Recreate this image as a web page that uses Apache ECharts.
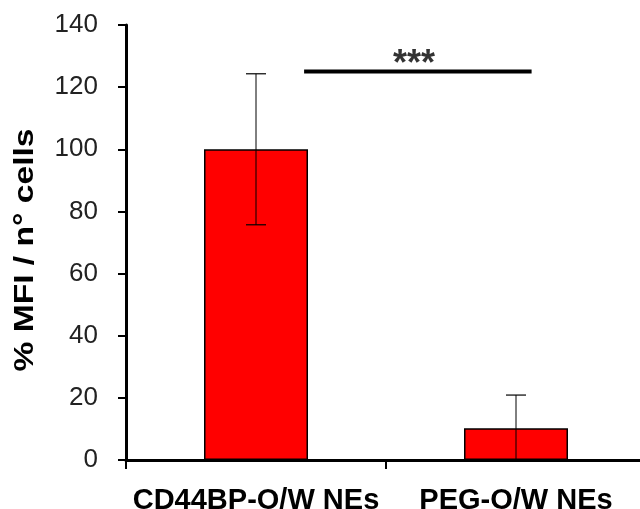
<!DOCTYPE html>
<html><head><meta charset="utf-8">
<script src="https://cdn.jsdelivr.net/npm/echarts@6/dist/echarts.min.js"></script>
<style>html,body{margin:0;padding:0;background:#fff}#c{width:640px;height:509px}</style>
</head><body><div id="c"></div>
<script>
const categories = ['CD44BP-O/W NEs', 'PEG-O/W NEs'];
const values = [100, 10.2];
const errors = [24.3, 10.7];
const yTicks = [0, 20, 40, 60, 80, 100, 120, 140];
const sigSpan = [0.185, 1.06];
const sigTextX = 0.608;
const sigLevel = 125;
const sigText = '***';
const yTitle = '% MFI / n° cells';

const chart = echarts.init(document.getElementById('c'));
const FONT = 'Liberation Sans, Arial, sans-serif';
chart.setOption({
  animation: false,
  grid: {left: 126, width: 520, top: 25, bottom: 49, containLabel: false, outerBoundsMode: 'none'},
  xAxis: [{
    type: 'category', data: categories,
    axisLine: {lineStyle: {color: '#000', width: 3}},
    axisTick: {show: true, length: 9, lineStyle: {color: '#000', width: 2}},
    axisLabel: {color: '#000', fontFamily: FONT, fontWeight: 'bold', fontSize: 29, margin: 26,
      interval: 0}
  }, {
    type: 'value', min: -0.5, max: 1.5, show: false
  }],
  yAxis: {
    type: 'value', min: yTicks[0], max: yTicks[yTicks.length - 1], interval: 20,
    splitLine: {show: false},
    axisLine: {show: true, onZero: false, lineStyle: {color: '#000', width: 3}},
    axisTick: {show: true, length: 8, lineStyle: {color: '#000', width: 2}},
    axisLabel: {color: '#222', fontFamily: FONT, fontSize: 26, margin: 28}
  },
  graphic: [{
    type: 'text', x: 25, y: 250, rotation: Math.PI / 2, scaleX: 1.2,
    style: {text: yTitle, x: 0, y: 0, align: 'center', verticalAlign: 'middle',
      fill: '#000', font: 'bold 28px ' + FONT}
  }],
  series: [{
    type: 'bar', data: values, barWidth: '40%',
    itemStyle: {color: '#ff0000', borderColor: '#000', borderWidth: 1.5}
  }, {
    type: 'custom',
    data: values.map((v, i) => [i, v, errors[i]]),
    renderItem: function (params, api) {
      const i = api.value(0), v = api.value(1), e = api.value(2);
      const top = api.coord([i, v + e]);
      const bot = api.coord([i, Math.max(0, v - e)]);
      const half = 10;
      const children = [
        {type: 'line', shape: {x1: top[0], y1: top[1], x2: bot[0], y2: bot[1]}, style: {stroke: '#000', lineWidth: 1}},
        {type: 'line', shape: {x1: top[0] - half, y1: top[1], x2: top[0] + half, y2: top[1]}, style: {stroke: '#000', lineWidth: 1.2}}
      ];
      if (v - e > 0) children.push({type: 'line', shape: {x1: bot[0] - half, y1: bot[1], x2: bot[0] + half, y2: bot[1]}, style: {stroke: '#000', lineWidth: 1.2}});
      return {type: 'group', children: children};
    },
    z: 5
  }, {
    type: 'line', xAxisIndex: 1,
    data: [[sigSpan[0], sigLevel], [sigSpan[1], sigLevel]],
    symbol: 'none', lineStyle: {color: '#000', width: 4}
  }, {
    type: 'scatter', xAxisIndex: 1,
    data: [[sigTextX, sigLevel]],
    symbolSize: 0.001,
    label: {show: true, formatter: sigText, position: 'top', distance: -11,
      color: '#000', fontFamily: FONT, fontWeight: 'bold', fontSize: 36}
  }]
});
</script></body></html>
